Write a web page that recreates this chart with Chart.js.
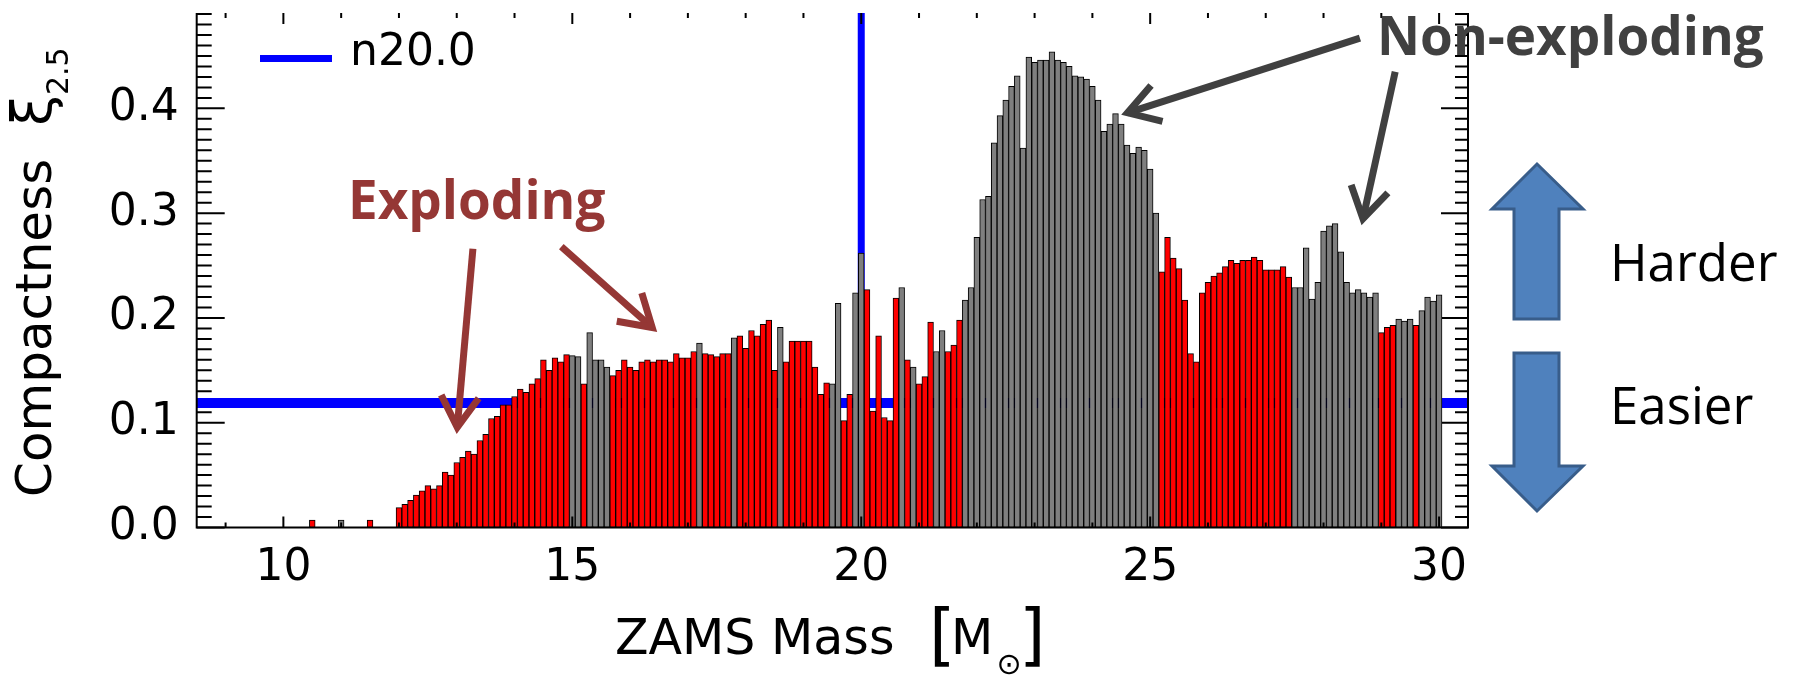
<!DOCTYPE html>
<html>
<head>
<meta charset="utf-8">
<script src="https://cdn.jsdelivr.net/npm/chart.js@4.4.1/dist/chart.umd.min.js"></script>
<style>
  html, body { margin: 0; padding: 0; background: #fff; }
</style>
</head>
<body>
<canvas id="chart" width="1808" height="680"></canvas>
<script>
// ZAMS mass of each progenitor model [M_sun]
const masses = [
	10.5, 11.0, 11.5,
	12.0, 12.1, 12.2, 12.3, 12.4, 12.5, 12.6, 12.7, 12.8, 12.9,
	13.0, 13.1, 13.2, 13.3, 13.4, 13.5, 13.6, 13.7, 13.8, 13.9,
	14.0, 14.1, 14.2, 14.3, 14.4, 14.5, 14.6, 14.7, 14.8, 14.9,
	15.0, 15.1, 15.2, 15.3, 15.4, 15.5, 15.6, 15.7, 15.8, 15.9,
	16.0, 16.1, 16.2, 16.3, 16.4, 16.5, 16.6, 16.7, 16.8, 16.9,
	17.0, 17.1, 17.2, 17.3, 17.4, 17.5, 17.6, 17.7, 17.8, 17.9,
	18.0, 18.1, 18.2, 18.3, 18.4, 18.5, 18.6, 18.7, 18.8, 18.9,
	19.0, 19.1, 19.2, 19.3, 19.4, 19.5, 19.6, 19.7, 19.8, 19.9,
	20.0, 20.1, 20.2, 20.3, 20.4, 20.5, 20.6, 20.7, 20.8, 20.9,
	21.0, 21.1, 21.2, 21.3, 21.4, 21.5, 21.6, 21.7, 21.8, 21.9,
	22.0, 22.1, 22.2, 22.3, 22.4, 22.5, 22.6, 22.7, 22.8, 22.9,
	23.0, 23.1, 23.2, 23.3, 23.4, 23.5, 23.6, 23.7, 23.8, 23.9,
	24.0, 24.1, 24.2, 24.3, 24.4, 24.5, 24.6, 24.7, 24.8, 24.9,
	25.0, 25.1, 25.2, 25.3, 25.4, 25.5, 25.6, 25.7, 25.8, 25.9,
	26.0, 26.1, 26.2, 26.3, 26.4, 26.5, 26.6, 26.7, 26.8, 26.9,
	27.0, 27.1, 27.2, 27.3, 27.4, 27.5, 27.6, 27.7, 27.8, 27.9,
	28.0, 28.1, 28.2, 28.3, 28.4, 28.5, 28.6, 28.7, 28.8, 28.9,
	29.0, 29.1, 29.2, 29.3, 29.4, 29.5, 29.6, 29.7, 29.8, 29.9,
	30.0
];

// compactness xi_2.5 of each model
const xi = [
	0.007, 0.007, 0.007,
	0.019, 0.022, 0.026, 0.031, 0.035, 0.040, 0.037, 0.040, 0.053, 0.050,
	0.062, 0.067, 0.073, 0.070, 0.083, 0.089, 0.104, 0.106, 0.117, 0.117,
	0.125, 0.132, 0.129, 0.137, 0.142, 0.160, 0.150, 0.162, 0.158, 0.165,
	0.164, 0.163, 0.137, 0.186, 0.160, 0.160, 0.153, 0.145, 0.150, 0.160,
	0.153, 0.150, 0.158, 0.160, 0.158, 0.160, 0.160, 0.158, 0.166, 0.162,
	0.162, 0.168, 0.176, 0.166, 0.165, 0.163, 0.166, 0.166, 0.181, 0.183,
	0.171, 0.188, 0.183, 0.194, 0.198, 0.150, 0.191, 0.158, 0.178, 0.178,
	0.178, 0.178, 0.153, 0.127, 0.138, 0.137, 0.214, 0.102, 0.127, 0.224,
	0.262, 0.227, 0.111, 0.183, 0.105, 0.102, 0.219, 0.229, 0.160, 0.153,
	0.137, 0.144, 0.196, 0.168, 0.188, 0.168, 0.174, 0.198, 0.217, 0.229,
	0.277, 0.313, 0.316, 0.367, 0.393, 0.408, 0.421, 0.431, 0.362, 0.449,
	0.444, 0.446, 0.446, 0.454, 0.446, 0.444, 0.440, 0.431, 0.430, 0.428,
	0.421, 0.408, 0.378, 0.385, 0.395, 0.385, 0.365, 0.357, 0.363, 0.360,
	0.342, 0.300, 0.244, 0.277, 0.257, 0.247, 0.217, 0.166, 0.158, 0.224,
	0.234, 0.240, 0.243, 0.249, 0.255, 0.252, 0.255, 0.255, 0.258, 0.255,
	0.246, 0.246, 0.246, 0.249, 0.239, 0.229, 0.229, 0.267, 0.218, 0.234,
	0.283, 0.288, 0.290, 0.263, 0.234, 0.224, 0.227, 0.224, 0.220, 0.224,
	0.186, 0.191, 0.193, 0.199, 0.197, 0.199, 0.193, 0.207, 0.220, 0.216,
	0.222
];

// 1 = model explodes (red), 0 = fails (grey)
const explodes = [
	1, 0, 1,
	1, 1, 1, 1, 1, 1, 1, 1, 1, 1,
	1, 1, 1, 1, 1, 1, 1, 1, 1, 1,
	1, 1, 1, 1, 1, 1, 1, 1, 1, 1,
	0, 0, 1, 0, 0, 0, 0, 1, 1, 1,
	1, 1, 1, 1, 1, 1, 1, 1, 1, 1,
	1, 1, 0, 1, 1, 1, 1, 1, 0, 1,
	1, 1, 1, 1, 1, 1, 0, 1, 1, 1,
	1, 1, 1, 1, 1, 0, 0, 1, 1, 0,
	0, 1, 1, 1, 1, 1, 1, 0, 1, 0,
	1, 1, 1, 0, 0, 1, 1, 1, 0, 0,
	0, 0, 0, 0, 0, 0, 0, 0, 0, 0,
	0, 0, 0, 0, 0, 0, 0, 0, 0, 0,
	0, 0, 0, 0, 0, 0, 0, 0, 0, 0,
	0, 0, 1, 1, 1, 1, 1, 1, 1, 1,
	1, 1, 1, 1, 1, 1, 1, 1, 1, 1,
	1, 1, 1, 1, 1, 0, 0, 0, 0, 0,
	0, 0, 0, 0, 0, 0, 0, 0, 0, 0,
	1, 1, 1, 0, 0, 0, 1, 0, 0, 0,
	0
];

// reference model n20.0
const n20Mass = 20.0;
const n20Xi = 0.1188;

const xMin = 8.5, xMax = 30.5;
const yMin = 0, yMax = 0.491;
const xTicks = [10, 15, 20, 25, 30];
const yTicks = [0.0, 0.1, 0.2, 0.3, 0.4];

const RED = "#ff0000";
const GREY = "#7f7f7f";
const BLUE = "#0000ff";
const EXPL = "#953735";
const NONEXPL = "#404040";
const AXIS_FONT = "'DejaVu Sans'";
const NOTE_FONT = "'Open Sans'";

// IDL style inward ticks and frame
const axisFrame = {
	id: "axisFrame",
	beforeDatasetsDraw: function (chart) {
		const { ctx, chartArea: a, scales: { y } } = chart;
		ctx.save();
		ctx.strokeStyle = "#000";
		ctx.lineWidth = 2;
		ctx.beginPath();
		for (let k = 0; k / 100 <= yMax; k++) {
			const py = y.getPixelForValue(k / 100);
			const major = k % 10 === 0;
			ctx.moveTo(a.left, py);
			ctx.lineTo(a.left + (major ? 28 : 15), py);
			ctx.moveTo(a.right, py);
			ctx.lineTo(a.right - (major ? 27 : 13), py);
		}
		ctx.stroke();
		ctx.restore();
	},
	afterDatasetsDraw: function (chart) {
		const { ctx, chartArea: a, scales: { x } } = chart;
		ctx.save();
		ctx.strokeStyle = "#000";
		ctx.lineWidth = 2;
		ctx.beginPath();
		for (let m = Math.ceil(xMin); m <= xMax; m++) {
			const px = x.getPixelForValue(m);
			const len = m % 5 === 0 ? 11 : 5;
			ctx.moveTo(px, a.bottom);
			ctx.lineTo(px, a.bottom - len);
			ctx.moveTo(px, a.top);
			ctx.lineTo(px, a.top + len);
		}
		// left, bottom, right sides of the box (top edge is cut off)
		ctx.moveTo(a.left, a.top);
		ctx.lineTo(a.left, a.bottom);
		ctx.lineTo(a.right, a.bottom);
		ctx.lineTo(a.right, a.top);
		ctx.stroke();
		ctx.restore();
	}
};

function lineArrow(ctx, x0, y0, x1, y1, color) {
	const ang = Math.atan2(y1 - y0, x1 - x0);
	const spread = 0.55, len = 36;
	// pull the tip back so the mitred point lands on (x1, y1)
	const tx = x1 - 6 * Math.cos(ang);
	const ty = y1 - 6 * Math.sin(ang);
	ctx.save();
	ctx.strokeStyle = color;
	ctx.lineWidth = 7;
	ctx.lineCap = "butt";
	ctx.lineJoin = "miter";
	ctx.beginPath();
	ctx.moveTo(x0, y0);
	ctx.lineTo(tx, ty);
	ctx.stroke();
	ctx.beginPath();
	ctx.moveTo(tx - len * Math.cos(ang - spread), ty - len * Math.sin(ang - spread));
	ctx.lineTo(tx, ty);
	ctx.lineTo(tx - len * Math.cos(ang + spread), ty - len * Math.sin(ang + spread));
	ctx.stroke();
	ctx.restore();
}

function blockArrow(ctx, pts) {
	ctx.save();
	ctx.fillStyle = "#4f81bd";
	ctx.strokeStyle = "#385d8a";
	ctx.lineWidth = 3;
	ctx.beginPath();
	pts.forEach(([px, py], i) => i ? ctx.lineTo(px, py) : ctx.moveTo(px, py));
	ctx.closePath();
	ctx.fill();
	ctx.stroke();
	ctx.restore();
}

const notes = {
	id: "notes",
	afterDraw: function (chart) {
		const { ctx, scales: { x, y } } = chart;
		const P = (m, v) => [x.getPixelForValue(m), y.getPixelForValue(v)];
		ctx.save();
		ctx.textBaseline = "alphabetic";
		ctx.textAlign = "left";

		// legend
		ctx.strokeStyle = BLUE;
		ctx.lineWidth = 7;
		ctx.beginPath();
		ctx.moveTo(260, 58.5);
		ctx.lineTo(332, 58.5);
		ctx.stroke();
		ctx.fillStyle = "#000";
		ctx.font = "44px " + AXIS_FONT;
		ctx.fillText("n20.0", 350, 65);

		// axis titles
		ctx.font = "49px " + AXIS_FONT;
		ctx.fillText("ZAMS Mass", 615, 654);
		ctx.font = "68px " + AXIS_FONT;
		ctx.fillText("[", 929, 658);
		ctx.fillText("]", 1019, 658);
		ctx.font = "49px " + AXIS_FONT;
		ctx.fillText("M", 951, 654);
		ctx.font = "30px " + AXIS_FONT;
		ctx.textAlign = "center";
		ctx.textBaseline = "middle";
		ctx.fillText("\u2299", 1009, 666);

		ctx.save();
		ctx.translate(51, 497);
		ctx.rotate(-Math.PI / 2);
		ctx.textAlign = "left";
		ctx.textBaseline = "alphabetic";
		ctx.font = "50px " + AXIS_FONT;
		ctx.fillText("Compactness", 0, 0);
		ctx.font = "56px " + AXIS_FONT;
		ctx.fillText("\u03be", 371, 0);
		ctx.font = "30px " + AXIS_FONT;
		ctx.fillText("2.5", 402, 17);
		ctx.restore();

		// outcome labels
		ctx.textAlign = "left";
		ctx.textBaseline = "alphabetic";
		ctx.font = "bold 53px " + NOTE_FONT;
		ctx.fillStyle = EXPL;
		ctx.fillText("Exploding", 348, 219);
		ctx.fillStyle = NONEXPL;
		ctx.fillText("Non-exploding", 1377, 55);

		lineArrow(ctx, ...P(13.28, 0.266), ...P(13.0, 0.090), EXPL);
		lineArrow(ctx, ...P(14.81, 0.268), ...P(16.46, 0.187), EXPL);
		lineArrow(ctx, ...P(28.63, 0.467), ...P(24.51, 0.394), NONEXPL);
		lineArrow(ctx, ...P(29.24, 0.435), ...P(28.66, 0.289), NONEXPL);

		// harder / easier
		blockArrow(ctx, [[1537, 164], [1583, 209], [1559, 209], [1559, 319], [1514, 319], [1514, 209], [1492, 209]]);
		blockArrow(ctx, [[1514, 353], [1559, 353], [1559, 466], [1583, 466], [1537, 511], [1492, 466], [1514, 466]]);
		ctx.fillStyle = "#000";
		ctx.font = "51px " + NOTE_FONT;
		ctx.fillText("Harder", 1610, 281);
		ctx.fillText("Easier", 1610, 424);
		ctx.restore();
	}
};

const chart = new Chart(document.getElementById("chart"), {
	type: "bar",
	data: {
		datasets: [{
			label: "compactness",
			data: masses.map((m, i) => ({ x: m, y: xi[i] })),
			backgroundColor: explodes.map(e => e ? RED : GREY),
			borderColor: "#000",
			borderWidth: 1,
			borderSkipped: false,
			barPercentage: 1,
			categoryPercentage: 1,
			order: 1
		}, {
			type: "line",
			label: "n20.0",
			data: [{ x: xMin, y: n20Xi }, { x: xMax, y: n20Xi }],
			borderColor: BLUE,
			borderWidth: 10,
			pointRadius: 0,
			clip: 0,
			order: 2
		}, {
			type: "line",
			label: "n20.0 mass",
			data: [{ x: n20Mass, y: yMin }, { x: n20Mass, y: yMax }],
			borderColor: BLUE,
			borderWidth: 7,
			pointRadius: 0,
			clip: 0,
			order: 2
		}]
	},
	options: {
		responsive: false,
		animation: false,
		devicePixelRatio: 1,
		layout: { padding: { left: 0, top: 13, right: 340, bottom: 0 } },
		plugins: {
			legend: { display: false },
			tooltip: { enabled: false }
		},
		scales: {
			x: {
				type: "linear",
				min: xMin,
				max: xMax,
				offset: false,
				grid: { display: false, drawTicks: false },
				border: { display: false },
				afterBuildTicks: (s) => { s.ticks = xTicks.map(v => ({ value: v })); },
				afterFit: (s) => {
					s.height = 152.5;
					s.paddingLeft = 0;
					s.paddingRight = 0;
				},
				ticks: {
					padding: 15,
					color: "#000",
					maxRotation: 0,
					autoSkip: false,
					font: { family: "DejaVu Sans", size: 44 },
					callback: (v) => String(v)
				}
			},
			y: {
				min: yMin,
				max: yMax,
				grid: { display: false, drawTicks: false },
				border: { display: false },
				afterBuildTicks: (s) => { s.ticks = yTicks.map(v => ({ value: v })); },
				afterFit: (s) => {
					s.width = 196.7;
					s.paddingTop = 0;
					s.paddingBottom = 0;
				},
				ticks: {
					padding: 18,
					color: "#000",
					font: { family: "DejaVu Sans", size: 44 },
					callback: (v) => v.toFixed(1)
				}
			}
		}
	},
	plugins: [axisFrame, notes]
});
</script>
</body>
</html>
